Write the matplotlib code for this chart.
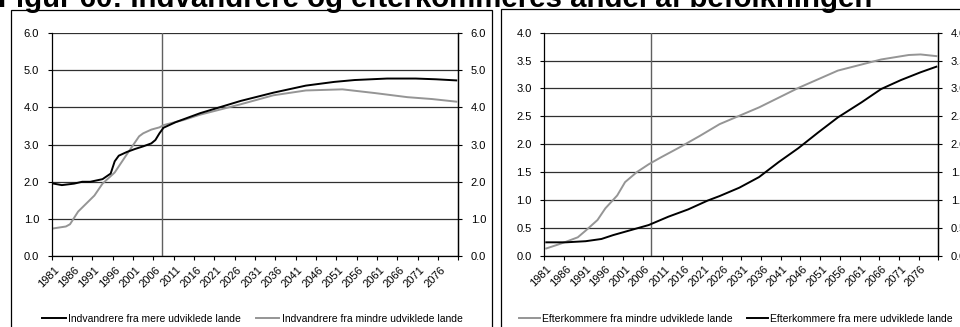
import matplotlib
matplotlib.use("Agg")
import matplotlib.pyplot as plt
from matplotlib.patches import Rectangle

plt.rcParams['font.family'] = ['Liberation Sans', 'DejaVu Sans']

# ---------------- data ----------------
title = "Figur 60: Indvandrere og efterkommeres andel af befolkningen"

tick_years = [1981, 1986, 1991, 1996, 2001, 2006, 2011, 2016, 2021, 2026, 2031,
              2036, 2041, 2046, 2051, 2056, 2061, 2066, 2071, 2076]
tick_labels = [str(y) for y in tick_years]
projection_start = 2007.7

# Left panel: immigrants
left_label_more = "Indvandrere fra mere udviklede lande"
left_years_more = [1981, 1983, 1986, 1988, 1990, 1993, 1995, 1996, 1997, 1999, 2001,
                   2003, 2005, 2006, 2007, 2008, 2011, 2017, 2027, 2035, 2043, 2050,
                   2055, 2063, 2070, 2075, 2080]
left_vals_more = [1.95, 1.91, 1.95, 2.00, 2.00, 2.07, 2.22, 2.55, 2.70, 2.80, 2.88,
                  2.95, 3.03, 3.12, 3.30, 3.45, 3.60, 3.84, 4.17, 4.39, 4.58, 4.68,
                  4.73, 4.77, 4.77, 4.75, 4.72]

left_label_less = "Indvandrere fra mindre udviklede lande"
left_years_less = [1981, 1984, 1985, 1987, 1991, 1993, 1996, 1999, 2002, 2003, 2005,
                   2007, 2008, 2013, 2017, 2027, 2035, 2043, 2052, 2060, 2068, 2074, 2080]
left_vals_less = [0.75, 0.80, 0.86, 1.20, 1.63, 1.95, 2.25, 2.74, 3.22, 3.30, 3.40,
                  3.46, 3.52, 3.66, 3.80, 4.08, 4.32, 4.45, 4.48, 4.38, 4.27, 4.22, 4.15]

# Right panel: descendants
right_label_less = "Efterkommere fra mindre udviklede lande"
right_years_less = [1981, 1984, 1986, 1989, 1991, 1994, 1996, 1999, 2001, 2004, 2007,
                    2010, 2015, 2020, 2025, 2035, 2045, 2055, 2066, 2073, 2076, 2080]
right_vals_less = [0.13, 0.20, 0.25, 0.33, 0.45, 0.64, 0.85, 1.08, 1.32, 1.50, 1.64,
                   1.76, 1.95, 2.15, 2.36, 2.66, 3.01, 3.32, 3.52, 3.60, 3.61, 3.58]

right_label_more = "Efterkommere fra mere udviklede lande"
right_years_more = [1981, 1986, 1991, 1995, 1998, 2001, 2005, 2007, 2012, 2017, 2022,
                    2025, 2030, 2035, 2040, 2045, 2050, 2055, 2061, 2066, 2071, 2076, 2080]
right_vals_more = [0.24, 0.24, 0.26, 0.30, 0.37, 0.43, 0.51, 0.55, 0.70, 0.83, 0.99,
                   1.07, 1.22, 1.41, 1.68, 1.93, 2.21, 2.48, 2.75, 2.99, 3.15, 3.29, 3.39]

left_yticks = [0.0, 1.0, 2.0, 3.0, 4.0, 5.0, 6.0]
right_yticks = [0.0, 0.5, 1.0, 1.5, 2.0, 2.5, 3.0, 3.5, 4.0]

# ---------------- figure ----------------
W, H = 960, 327
fig = plt.figure(figsize=(W / 100, H / 100), dpi=100)

BLACK = "#000000"
GRAY = "#959595"
FS = 8.0
LFS = 7.5


def px_rect(x0, y_top, x1, y_bot):
    return [x0 / W, 1 - y_bot / H, (x1 - x0) / W, (y_bot - y_top) / H]


# outer frames
fig.patches.append(Rectangle((11 / W, -0.05), (492 - 11) / W, 1.05 - 10 / H,
                             transform=fig.transFigure, fill=False, ec="black", lw=0.9))
fig.patches.append(Rectangle((501 / W, -0.05), (970 - 501) / W, 1.05 - 9 / H,
                             transform=fig.transFigure, fill=False, ec="black", lw=0.9))

fig.text(872 / W, 1 - 7 / H, title, ha="right", va="baseline",
         fontsize=21.2, fontweight="bold")


def setup_axes(ax, yticks, ymax):
    ax.set_xlim(1980.5, 2080.5)
    ax.set_ylim(0, ymax)
    ax.set_yticks(yticks)
    ax.set_yticklabels([f"{v:.1f}" for v in yticks], fontsize=FS)
    ax.yaxis.grid(True, color="#303030", lw=0.9)
    ax.set_axisbelow(True)
    ax.spines["top"].set_visible(False)
    for s in ("left", "right", "bottom"):
        ax.spines[s].set_linewidth(0.9)
    ax.set_xticks([1980.5 + 5 * k for k in range(21)])
    ax.set_xticklabels([])
    ax.set_xticks(tick_years, minor=True)
    ax.set_xticklabels(tick_labels, minor=True, rotation=45, ha="right",
                       rotation_mode="anchor", fontsize=FS)
    ax.tick_params(axis="x", which="major", length=3, width=0.8, direction="out")
    ax.tick_params(axis="x", which="minor", length=0, pad=6)
    ax.tick_params(axis="y", length=3, width=0.8, pad=6)
    ax.axvline(projection_start, color="#606060", lw=1.0, zorder=1.5)
    tw = ax.twinx()
    tw.set_ylim(0, ymax)
    tw.set_yticks(yticks)
    tw.set_yticklabels([f"{v:.1f}" for v in yticks], fontsize=FS)
    tw.tick_params(axis="y", length=3, width=0.8, pad=6)
    for s in tw.spines.values():
        s.set_visible(False)
    tw.spines["right"].set_visible(True)
    tw.spines["right"].set_linewidth(0.9)


ax1 = fig.add_axes(px_rect(51.7, 32.7, 458.3, 256.3))
setup_axes(ax1, left_yticks, 6.0)
l1, = ax1.plot(left_years_more, left_vals_more, color=BLACK, lw=1.4, zorder=3)
l2, = ax1.plot(left_years_less, left_vals_less, color=GRAY, lw=1.4, zorder=2.5)
fig.legend([l1, l2], [left_label_more, left_label_less], loc="center left",
           bbox_to_anchor=(42 / W, 1 - 319 / H), bbox_transform=fig.transFigure,
           ncol=2, frameon=False, fontsize=LFS, handlelength=2.3, handletextpad=0.2,
           columnspacing=1.4, borderpad=0, borderaxespad=0)

ax2 = fig.add_axes(px_rect(544.3, 32.7, 938.3, 255.7))
setup_axes(ax2, right_yticks, 4.0)
r1, = ax2.plot(right_years_less, right_vals_less, color=GRAY, lw=1.4, zorder=2.5)
r2, = ax2.plot(right_years_more, right_vals_more, color=BLACK, lw=1.4, zorder=3)
fig.legend([r1, r2], [right_label_less, right_label_more], loc="center left",
           bbox_to_anchor=(519 / W, 1 - 319 / H), bbox_transform=fig.transFigure,
           ncol=2, frameon=False, fontsize=LFS, handlelength=2.0, handletextpad=0.2,
           columnspacing=1.4, borderpad=0, borderaxespad=0)

fig.savefig("out.png", dpi=100)
